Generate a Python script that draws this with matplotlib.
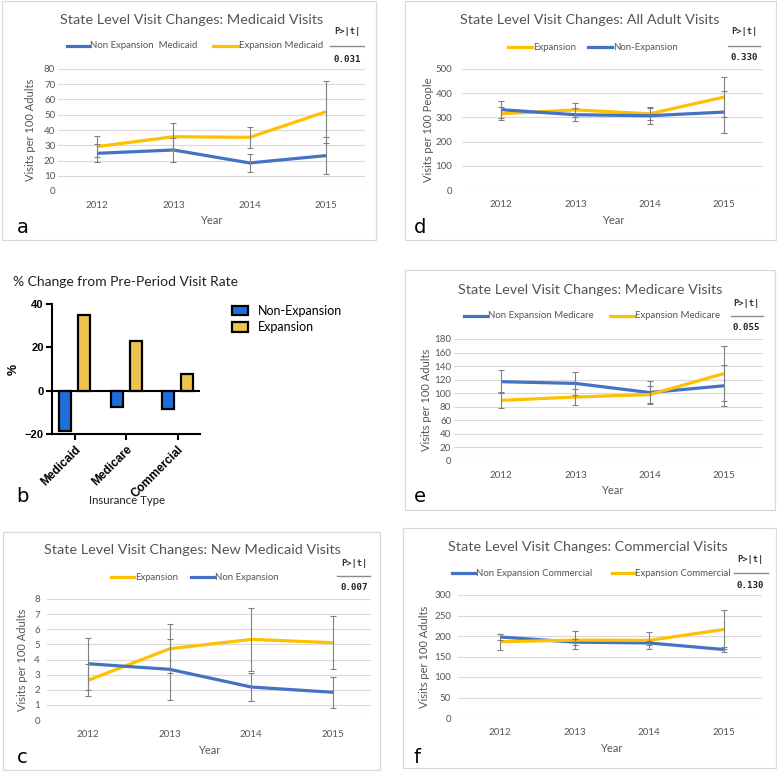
import matplotlib
matplotlib.use('Agg')
import matplotlib.pyplot as plt
from matplotlib.lines import Line2D
from matplotlib.patches import Rectangle

# ---------------- data ----------------
years = ['2012', '2013', '2014', '2015']

medicaid_nonexp = [24.7, 26.9, 18.4, 23.2]
medicaid_nonexp_err = [6.0, 8.1, 5.9, 12.0]
medicaid_exp = [29.1, 35.6, 35.2, 52.0]
medicaid_exp_err = [6.7, 8.8, 6.8, 20.3]

all_exp = [315, 331, 315, 384]
all_exp_err = [27, 30, 26, 82]
all_nonexp = [332, 311, 307, 322]
all_nonexp_err = [35, 27, 33, 86]

medicare_nonexp = [117, 114.5, 101, 111]
medicare_nonexp_err = [17, 16.5, 17, 30]
medicare_exp = [89.5, 94.4, 98, 129]
medicare_exp_err = [12, 12.5, 12, 41]

newmed_exp = [2.62, 4.71, 5.33, 5.11]
newmed_exp_err = [1.06, 1.63, 2.07, 1.74]
newmed_nonexp = [3.72, 3.35, 2.18, 1.83]
newmed_nonexp_err = [1.71, 2.03, 0.90, 1.03]

comm_nonexp = [197.6, 185, 183, 167]
comm_nonexp_err = [8, 7, 5, 6]
comm_exp = [186, 190, 189.4, 216]
comm_exp_err = [19.5, 21, 20, 47]

ins_types = ['Medicaid', 'Medicare', 'Commercial']
pct_nonexp = [-18.6, -7.6, -8.5]
pct_exp = [35.0, 22.9, 7.5]

p_values = {'a': '0.031', 'd': '0.330', 'e': '0.055', 'c': '0.007', 'f': '0.130'}

# ---------------- style ----------------
BLUE = '#4472C4'
GOLD = '#FFC000'
GRAY_TXT = '#555555'
GRID = '#d9d9d9'
ERR = '#808080'
FONT = 'Lato'
MONO = 'DejaVu Sans Mono'

W, H = 777, 773
fig = plt.figure(figsize=(W / 100, H / 100), dpi=100)
fig.patch.set_facecolor('white')

ov = fig.add_axes([0, 0, 1, 1])
ov.set_xlim(0, W)
ov.set_ylim(H, 0)
ov.axis('off')


def add_ax(l, r, t, b):
    return fig.add_axes([l / W, 1 - b / H, (r - l) / W, (b - t) / H])


def to_axes(ax_rect, x, y):
    l, r, t, b = ax_rect
    return (x - l) / (r - l), (b - y) / (b - t)


def line_panel(box, title, title_xy, rect, ymax, ystep, p0, p3, series,
               legend, pinfo, xlabel_xy, ylabel_xy, letter, letter_xy,
               ylabel='Visits per 100 Adults', ypad=2.0):
    # border
    bl, bt, br, bb = box
    ov.add_patch(Rectangle((bl, bt), br - bl, bb - bt, fill=False,
                           ec=GRID, lw=0.9))
    ov.text(title_xy[0], title_xy[1], title, ha='center', va='center',
            fontsize=10.4, color=GRAY_TXT, family=FONT)
    l, r, t, b = rect
    ax = add_ax(l, r, t, b)
    s = (p3 - p0) / 3
    ax.set_xlim(-(p0 - l) / s, 3 + (r - p3) / s)
    ax.set_ylim(0, ymax)
    ax.set_yticks(list(range(0, ymax + 1, ystep)))
    ax.set_xticks(range(len(years)))
    ax.set_xticklabels(years)
    ax.yaxis.grid(True, color=GRID, lw=0.8)
    ax.set_axisbelow(True)
    for sp in ax.spines.values():
        sp.set_visible(False)
    ax.tick_params(axis='both', length=0, labelsize=7.0, labelcolor=GRAY_TXT)
    ax.tick_params(axis='x', pad=7)
    ax.tick_params(axis='y', pad=ypad)
    for lab in ax.get_xticklabels() + ax.get_yticklabels():
        lab.set_family(FONT)
    ax.patch.set_alpha(0)
    x = range(len(years))
    for vals, err, col in series:
        ax.plot(x, vals, color=col, lw=2.3, solid_joinstyle='round',
                solid_capstyle='butt', zorder=3)
    for vals, err, col in series:
        ax.errorbar(x, vals, yerr=err, fmt='none', ecolor=ERR, elinewidth=0.8,
                    capsize=2.2, capthick=0.8, zorder=4)
    ax.set_xlabel('Year', fontsize=8.0, color=GRAY_TXT, family=FONT)
    ax.xaxis.set_label_coords(*to_axes(rect, *xlabel_xy))
    ax.xaxis.label.set_va('center')
    ax.set_ylabel(ylabel, fontsize=8.0, color=GRAY_TXT, family=FONT)
    ax.yaxis.set_label_coords(*to_axes(rect, *ylabel_xy))
    ax.yaxis.label.set_va('center')
    # legend
    for (x1, x2, y, col, txt) in legend:
        ov.add_line(Line2D([x1, x2], [y, y], color=col, lw=2.3))
        ov.text(x2 + 1, y, txt, ha='left', va='center', fontsize=6.9,
                color=GRAY_TXT, family=FONT)
    # p-value box
    cx, yp, lx1, lx2, yl, yv, pv = pinfo
    ov.text(cx, yp, 'P>|t|', ha='center', va='center', fontsize=6.3,
            family=MONO, weight='bold', color='#333333')
    ov.add_line(Line2D([lx1, lx2], [yl, yl], color='#8c8c8c', lw=1.0))
    ov.text(cx, yv, pv, ha='center', va='center', fontsize=6.6,
            family=MONO, weight='bold', color='#222222')
    ov.text(letter_xy[0], letter_xy[1], letter, ha='left', va='baseline',
            fontsize=14, color='black', family='DejaVu Sans')
    return ax


# ---- panel a ----
line_panel(box=(2, 1, 376, 240),
           title='State Level Visit Changes: Medicaid Visits', title_xy=(192, 20),
           rect=(58, 365, 69, 191), ymax=80, ystep=10, p0=97, p3=326,
           series=[(medicaid_nonexp, medicaid_nonexp_err, BLUE),
                   (medicaid_exp, medicaid_exp_err, GOLD)],
           legend=[(67, 89, 46, BLUE, 'Non Expansion  Medicaid'),
                   (213, 238, 46, GOLD, 'Expansion Medicaid')],
           pinfo=(347, 32, 330, 364, 46, 59, p_values['a']),
           xlabel_xy=(211, 221), ylabel_xy=(30, 130),
           letter='a', letter_xy=(17, 233))

# ---- panel d ----
line_panel(box=(405, 1, 776, 240),
           title='State Level Visit Changes: All Adult Visits', title_xy=(590, 20),
           rect=(462, 763, 69, 190), ymax=500, ystep=100, p0=501, p3=724,
           series=[(all_exp, all_exp_err, GOLD),
                   (all_nonexp, all_nonexp_err, BLUE)],
           legend=[(508, 532, 47, GOLD, 'Expansion'),
                   (588, 612, 47, BLUE, 'Non-Expansion')],
           pinfo=(744, 32, 728, 760, 46, 58, p_values['d']),
           xlabel_xy=(613, 220), ylabel_xy=(428, 130),
           letter='d', letter_xy=(414, 233),
           ylabel='Visits per 100 People', ypad=7)

# ---- panel e ----
line_panel(box=(405, 270, 775, 510),
           title='State Level Visit Changes: Medicare Visits', title_xy=(590, 290),
           rect=(454, 763, 339, 461), ymax=180, ystep=20, p0=501, p3=724,
           series=[(medicare_nonexp, medicare_nonexp_err, BLUE),
                   (medicare_exp, medicare_exp_err, GOLD)],
           legend=[(464, 487, 316, BLUE, 'Non Expansion Medicare'),
                   (610, 634, 316, GOLD, 'Expansion Medicare')],
           pinfo=(746, 303, 731, 763, 316, 328, p_values['e']),
           xlabel_xy=(612, 491), ylabel_xy=(427, 400),
           letter='e', letter_xy=(414, 502))

# ---- panel c ----
line_panel(box=(3, 532, 380, 770),
           title='State Level Visit Changes: New Medicaid Visits', title_xy=(192, 550),
           rect=(47, 371, 599, 720), ymax=8, ystep=1, p0=88, p3=333,
           series=[(newmed_exp, newmed_exp_err, GOLD),
                   (newmed_nonexp, newmed_nonexp_err, BLUE)],
           legend=[(111, 134, 577, GOLD, 'Expansion'),
                   (191, 214, 577, BLUE, 'Non Expansion')],
           pinfo=(354, 563, 337, 370, 576, 588, p_values['c']),
           xlabel_xy=(209, 750), ylabel_xy=(23, 660),
           letter='c', letter_xy=(17, 763), ypad=5)

# ---- panel f ----
line_panel(box=(403, 528, 776, 768),
           title='State Level Visit Changes: Commercial Visits', title_xy=(588, 547),
           rect=(458, 762, 595, 718), ymax=300, ystep=50, p0=500, p3=724,
           series=[(comm_nonexp, comm_nonexp_err, BLUE),
                   (comm_exp, comm_exp_err, GOLD)],
           legend=[(452, 475, 573, BLUE, 'Non Expansion Commercial'),
                   (612, 634, 573, GOLD, 'Expansion Commercial')],
           pinfo=(750, 559, 734, 768, 573, 586, p_values['f']),
           xlabel_xy=(611, 748), ylabel_xy=(425, 657),
           letter='f', letter_xy=(413, 763), ypad=5)

# ---- panel b (bar chart) ----
B_BLUE = '#1F6FDB'
B_GOLD = '#EDC54E'
rect_b = (52, 200, 304, 434)
axb = add_ax(*rect_b)
pos0, pos2 = 74.5, 177.5
sb = (pos2 - pos0) / 2
axb.set_xlim(-(pos0 - 52) / sb, 2 + (200 - pos2) / sb)
axb.set_ylim(-20, 40)
bw = 12 / sb
off = 9.5 / sb
xs = range(len(ins_types))
axb.bar([i - off for i in xs], pct_nonexp, width=bw, color=B_BLUE,
        edgecolor='black', linewidth=1.6, label='Non-Expansion', zorder=3)
axb.bar([i + off for i in xs], pct_exp, width=bw, color=B_GOLD,
        edgecolor='black', linewidth=1.6, label='Expansion', zorder=3)
axb.axhline(0, color='black', lw=1.5, zorder=4)
for side in ['top', 'right']:
    axb.spines[side].set_visible(False)
for side in ['left', 'bottom']:
    axb.spines[side].set_linewidth(1.5)
axb.set_yticks([-20, 0, 20, 40])
axb.set_xticks(list(xs))
axb.set_xticklabels(ins_types, rotation=45, ha='right', va='top',
                    rotation_mode='anchor')
axb.tick_params(axis='both', width=1.5, length=4, labelsize=8.0)
axb.tick_params(axis='x', pad=3, labelsize=8.6)
axb.tick_params(axis='y', pad=2)
for lab in axb.get_xticklabels() + axb.get_yticklabels():
    lab.set_family('Liberation Sans')
    lab.set_weight('bold')
axb.patch.set_alpha(0)
axb.set_ylabel('%', fontsize=9, weight='bold', family='Liberation Sans')
axb.yaxis.set_label_coords(*to_axes(rect_b, 14, 369))
axb.yaxis.label.set_va('center')
axb.set_xlabel('Insurance Type', fontsize=8.2, family=FONT, color='#222222')
axb.xaxis.set_label_coords(*to_axes(rect_b, 127, 500))
axb.xaxis.label.set_va('center')
axb.legend(loc='upper left', bbox_to_anchor=to_axes(rect_b, 232, 305),
           frameon=False, prop={'family': FONT, 'size': 9},
           handlelength=1.3, handleheight=0.8, handletextpad=0.8,
           labelspacing=0.35, borderaxespad=0, borderpad=0)
ov.text(13, 282, '% Change from Pre-Period Visit Rate', ha='left', va='center',
        fontsize=10.0, family=FONT, color='#222222')
ov.text(16, 502, 'b', ha='left', va='baseline', fontsize=14,
        color='black', family='DejaVu Sans')

fig.savefig('out.png', dpi=100, facecolor='white')
